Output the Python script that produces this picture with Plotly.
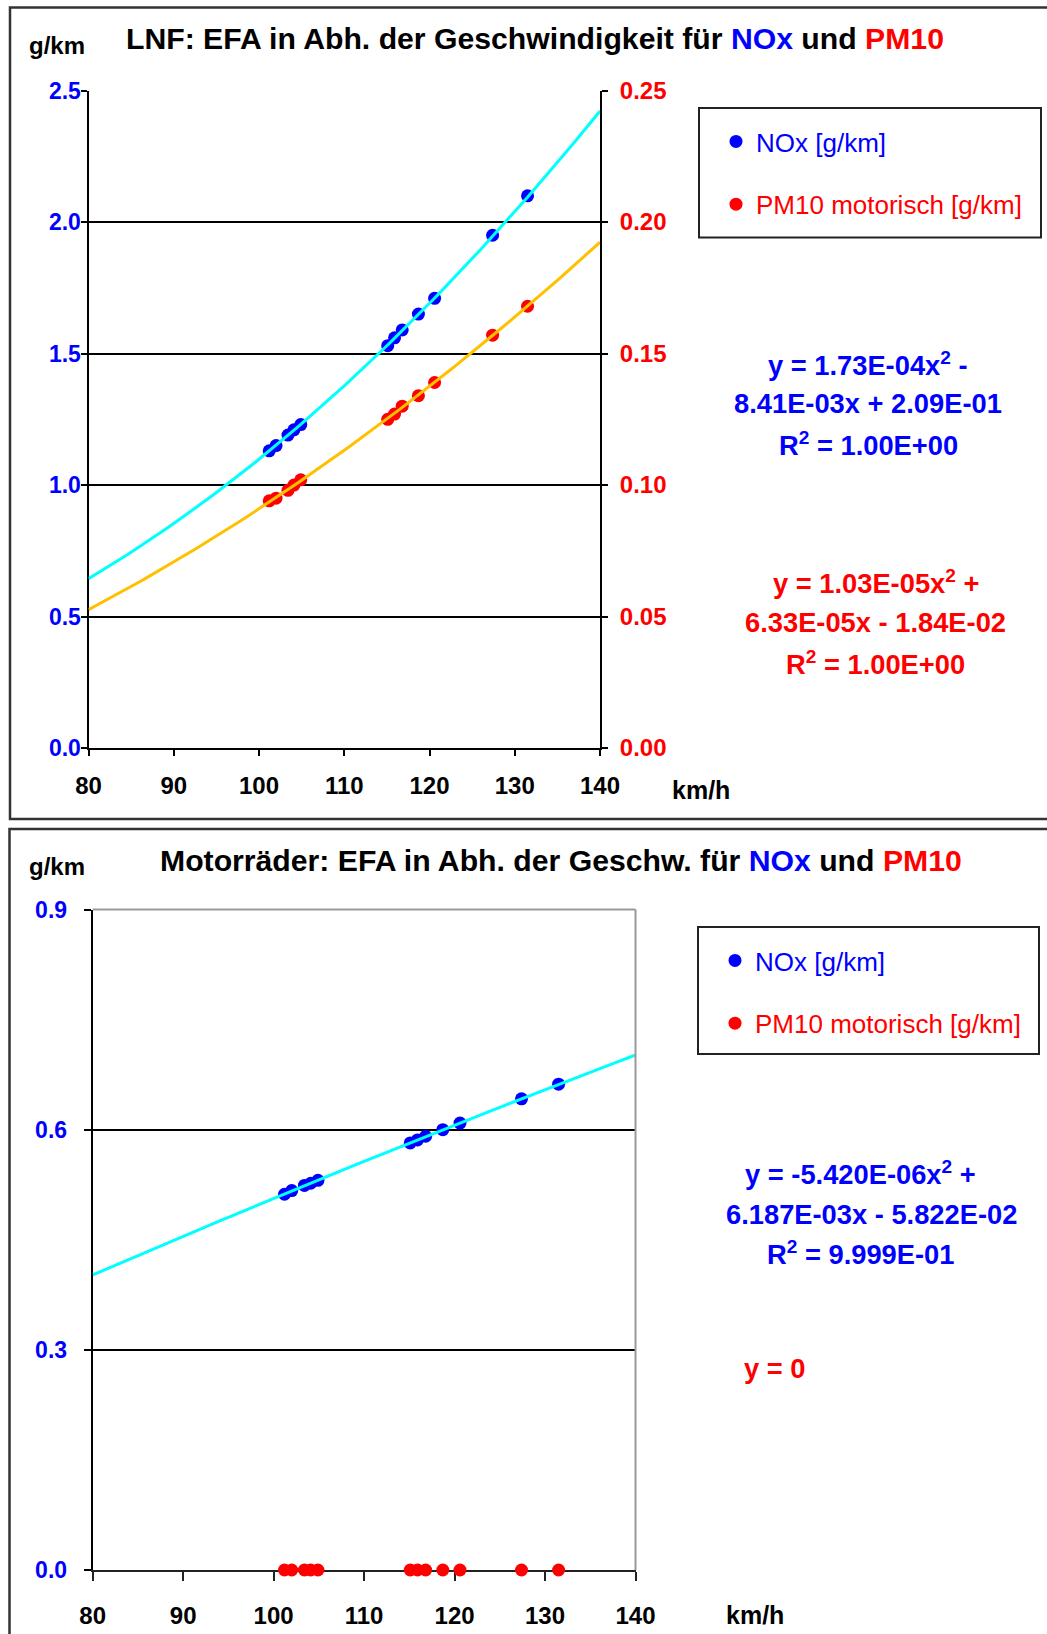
import numpy as np
import plotly.graph_objects as go

# ---------------- data ----------------
speed = [101.2, 102.0, 103.4, 104.1, 104.9, 115.1, 115.9, 116.8, 118.7, 120.6, 127.4, 131.5]
lnf_nox = [1.13, 1.15, 1.19, 1.21, 1.23, 1.53, 1.56, 1.59, 1.65, 1.71, 1.95, 2.10]
lnf_pm10 = [0.094, 0.095, 0.098, 0.100, 0.102, 0.125, 0.127, 0.130, 0.134, 0.139, 0.157, 0.168]
mr_nox = [0.512, 0.517, 0.524, 0.527, 0.531, 0.582, 0.586, 0.591, 0.600, 0.609, 0.642, 0.662]
mr_pm10 = [0, 0, 0, 0, 0, 0, 0, 0, 0, 0, 0, 0]

# trendline coefficients as printed in the chart (a*x^2 + b*x + c)
lnf_nox_coef = [1.73e-4, -8.41e-3, 2.09e-1]
lnf_pm10_coef = [1.03e-5, 6.33e-5, -1.84e-2]
mr_nox_coef = [-5.420e-6, 6.187e-3, -5.822e-2]

x_ticks = [80, 90, 100, 110, 120, 130, 140]

W, H = 1047, 1634
FONT = "Liberation Sans, Arial, sans-serif"
BLUE, RED = "#0000FF", "#FF0000"
CYAN, GOLD = "#00FFFF", "#FFC000"


def px(x):
    return x / W


def py(y):
    return 1 - y / H


tx = np.linspace(80, 140, 121)
MS = 13

fig = go.Figure()

# ---------- top chart (LNF) ----------
fig.add_trace(go.Scatter(x=speed, y=lnf_nox, mode="markers", xaxis="x", yaxis="y",
                         marker=dict(color=BLUE, size=MS, symbol="circle"),
                         name="<span style='color:#0000FF'>NOx [g/km]</span>",
                         legend="legend", legendgroup="a", cliponaxis=False))
fig.add_trace(go.Scatter(x=speed, y=lnf_pm10, mode="markers", xaxis="x", yaxis="y2",
                         marker=dict(color=RED, size=MS, symbol="circle"),
                         name="<span style='color:#FF0000'>PM10 motorisch [g/km]</span>",
                         legend="legend", legendgroup="b", cliponaxis=False))
fig.add_trace(go.Scatter(x=tx, y=np.polyval(lnf_nox_coef, tx), mode="lines", xaxis="x", yaxis="y",
                         line=dict(color=CYAN, width=3), showlegend=False, hoverinfo="skip"))
fig.add_trace(go.Scatter(x=tx, y=np.polyval(lnf_pm10_coef, tx), mode="lines", xaxis="x", yaxis="y2",
                         line=dict(color=GOLD, width=3), showlegend=False, hoverinfo="skip"))

# ---------- bottom chart (Motorräder) ----------
fig.add_trace(go.Scatter(x=speed, y=mr_nox, mode="markers", xaxis="x2", yaxis="y3",
                         marker=dict(color=BLUE, size=MS, symbol="circle"),
                         name="<span style='color:#0000FF'>NOx [g/km]</span>",
                         legend="legend2", legendgroup="c", cliponaxis=False))
fig.add_trace(go.Scatter(x=speed, y=mr_pm10, mode="markers", xaxis="x2", yaxis="y3",
                         marker=dict(color=RED, size=MS, symbol="circle"),
                         name="<span style='color:#FF0000'>PM10 motorisch [g/km]</span>",
                         legend="legend2", legendgroup="d", cliponaxis=False))
fig.add_trace(go.Scatter(x=tx, y=np.polyval(mr_nox_coef, tx), mode="lines", xaxis="x2", yaxis="y3",
                         line=dict(color=CYAN, width=3), showlegend=False, hoverinfo="skip"))

tickfont_x = dict(family=FONT, size=24, color="black", weight="bold")

fig.update_layout(
    width=W, height=H,
    margin=dict(l=0, r=0, t=0, b=0, pad=0, autoexpand=False),
    paper_bgcolor="white", plot_bgcolor="white",
    font=dict(family=FONT),
    xaxis=dict(domain=[px(88.5), px(600)], range=[80, 140], tickvals=x_ticks,
               showline=True, linecolor="black", linewidth=2, ticks="outside", ticklen=6,
               tickwidth=2, tickcolor="black", showgrid=False, zeroline=False,
               tickfont=tickfont_x, anchor="y", ticklabelstandoff=9, layer="below traces",
               automargin=False),
    yaxis=dict(domain=[py(748), py(90.6)], range=[0, 2.5], dtick=0.5, tickformat=".1f",
               showline=True, linecolor="black", linewidth=2, ticks="outside", ticklen=6,
               tickwidth=2, tickcolor="black", showgrid=True, gridcolor="black", gridwidth=1.5,
               zeroline=False, anchor="x", layer="below traces", automargin=False,
               ticklabelstandoff=-5,
               tickfont=dict(family=FONT, size=23, color=BLUE, weight="bold")),
    yaxis2=dict(overlaying="y", side="right", anchor="x", range=[0, 0.25], dtick=0.05,
                tickformat=".2f", showline=True, linecolor="black", linewidth=2,
                ticks="outside", ticklen=6, tickwidth=2, tickcolor="black", showgrid=False,
                zeroline=False, ticklabelstandoff=7, layer="below traces", automargin=False,
                tickfont=dict(family=FONT, size=24, color=RED, weight="bold")),
    xaxis2=dict(domain=[px(92.7), px(635.5)], range=[80, 140], tickvals=x_ticks,
                showline=True, linecolor="#222222", linewidth=2, ticks="outside", ticklen=9,
                tickwidth=2, tickcolor="#222222", showgrid=False, zeroline=False,
                tickfont=tickfont_x, anchor="y3", ticklabelstandoff=14, layer="below traces",
                automargin=False),
    yaxis3=dict(domain=[py(1570), py(909.5)], range=[0, 0.9], tickvals=[0, 0.3, 0.6, 0.9],
                tickformat=".1f", showline=True, linecolor="black", linewidth=2,
                ticks="outside", ticklen=7, tickwidth=2, tickcolor="black", showgrid=True,
                gridcolor="black", gridwidth=1.5, zeroline=False, anchor="x2",
                ticklabelstandoff=12, layer="below traces", automargin=False,
                tickfont=dict(family=FONT, size=23, color=BLUE, weight="bold")),
    legend=dict(x=px(716), y=py(118), xanchor="left", yanchor="top",
                bgcolor="rgba(0,0,0,0)", borderwidth=0, traceorder="grouped",
                tracegroupgap=26, font=dict(family=FONT, size=26)),
    legend2=dict(x=px(715), y=py(937), xanchor="left", yanchor="top",
                 bgcolor="rgba(0,0,0,0)", borderwidth=0, traceorder="grouped",
                 tracegroupgap=26, font=dict(family=FONT, size=26)),
)

shapes = [
    # panel frames
    dict(type="rect", xref="paper", yref="paper", x0=px(10), x1=px(1060), y0=py(819), y1=py(7.5),
         line=dict(color="#333333", width=2.5), layer="below"),
    dict(type="rect", xref="paper", yref="paper", x0=px(9.5), x1=px(1060), y0=py(1660), y1=py(829),
         line=dict(color="#333333", width=2.5), layer="below"),
    # legend boxes
    dict(type="rect", xref="paper", yref="paper", x0=px(699), x1=px(1041), y0=py(237.5), y1=py(108),
         line=dict(color="#222222", width=2), layer="below"),
    dict(type="rect", xref="paper", yref="paper", x0=px(698), x1=px(1039), y0=py(1054), y1=py(927),
         line=dict(color="#222222", width=2), layer="below"),
    # bottom plot-area border (top & right, gray)
    dict(type="line", xref="x2 domain", yref="y3 domain", x0=0, x1=1, y0=1, y1=1,
         line=dict(color="#999999", width=2), layer="above"),
    dict(type="line", xref="x2 domain", yref="y3 domain", x0=1, x1=1, y0=0, y1=1,
         line=dict(color="#999999", width=2), layer="above"),
]
fig.update_layout(shapes=shapes)


def ann(text, x, y, size, color="black", bold=True):
    return dict(text=text, xref="paper", yref="paper", x=px(x), y=py(y), xanchor="center",
                yanchor="middle", showarrow=False,
                font=dict(family=FONT, size=size, color=color, weight="bold" if bold else "normal"))


EQ = 27.3
TS = 30.2
annotations = [
    ann("LNF: EFA in Abh. der Geschwindigkeit für <span style='color:#0000FF'>NOx</span> und "
        "<span style='color:#FF0000'>PM10</span>", 535, 38, TS),
    ann("g/km", 57, 46, 24),
    ann("km/h", 701, 790, 25),
    ann("y = 1.73E-04x<sup>2</sup> -", 868, 364, EQ, BLUE),
    ann("8.41E-03x + 2.09E-01", 868, 403, EQ, BLUE),
    ann("R<sup>2</sup> = 1.00E+00", 868, 444, EQ, BLUE),
    ann("y = 1.03E-05x<sup>2</sup> +", 876, 582, EQ, RED),
    ann("6.33E-05x - 1.84E-02", 875, 622, EQ, RED),
    ann("R<sup>2</sup> = 1.00E+00", 875, 663, EQ, RED),
    ann("Motorräder: EFA in Abh. der Geschw. für <span style='color:#0000FF'>NOx</span> und "
        "<span style='color:#FF0000'>PM10</span>", 561, 860, TS),
    ann("g/km", 57, 867, 24),
    ann("km/h", 755, 1615, 25),
    ann("y = -5.420E-06x<sup>2</sup> +", 860, 1173, EQ, BLUE),
    ann("6.187E-03x - 5.822E-02", 871, 1214, EQ, BLUE),
    ann("R<sup>2</sup> = 9.999E-01", 860, 1253, EQ, BLUE),
    ann("y = 0", 774, 1368, EQ, RED),
]
fig.update_layout(annotations=annotations)

fig.write_html(
    "out.html",
    config={"displayModeBar": False},
    post_script="document.body.style.margin='0';document.body.style.overflow='hidden';",
)
